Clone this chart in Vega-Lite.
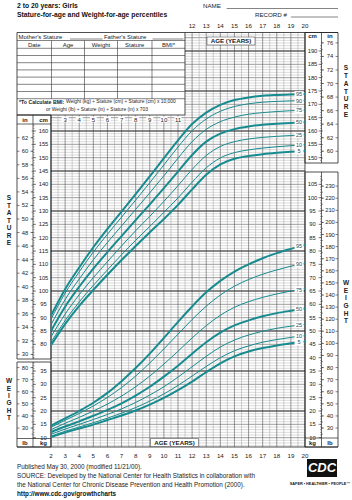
{
"$schema":"https://vega.github.io/schema/vega-lite/v6.json",
"width":352,"height":500,"padding":0,"autosize":{"type":"none"},
"background":"white",
"config":{"view":{"stroke":null},"font":"Liberation Sans"},
"resolve":{"scale":{"y":"independent"}},
"datasets":{
"stat":[
{"age":2,"p5":79.7,"p10":80.8,"p25":82.8,"p50":85.0,"p75":87.3,"p90":89.4,"p95":90.8},
{"age":3,"p5":87.6,"p10":88.9,"p25":91.3,"p50":94.1,"p75":96.8,"p90":99.2,"p95":100.7},
{"age":4,"p5":94.4,"p10":95.9,"p25":98.6,"p50":101.6,"p75":104.5,"p90":107.2,"p95":108.8},
{"age":5,"p5":100.4,"p10":102.1,"p25":105.0,"p50":108.4,"p75":111.7,"p90":114.6,"p95":116.4},
{"age":6,"p5":106.1,"p10":107.9,"p25":111.0,"p50":114.6,"p75":118.2,"p90":121.3,"p95":123.3},
{"age":7,"p5":111.6,"p10":113.6,"p25":116.9,"p50":120.6,"p75":124.4,"p90":127.7,"p95":129.8},
{"age":8,"p5":116.9,"p10":119.0,"p25":122.6,"p50":126.6,"p75":130.6,"p90":134.1,"p95":136.3},
{"age":9,"p5":122.0,"p10":124.2,"p25":128.0,"p50":132.5,"p75":136.8,"p90":140.6,"p95":143.0},
{"age":10,"p5":127.0,"p10":129.5,"p25":133.6,"p50":138.6,"p75":143.2,"p90":147.3,"p95":149.8},
{"age":11,"p5":132.3,"p10":134.9,"p25":139.5,"p50":144.8,"p75":149.8,"p90":154.0,"p95":156.5},
{"age":12,"p5":138.1,"p10":140.8,"p25":145.6,"p50":151.0,"p75":156.0,"p90":160.1,"p95":162.6},
{"age":13,"p5":143.6,"p10":146.2,"p25":150.8,"p50":156.0,"p75":160.6,"p90":164.5,"p95":166.9},
{"age":14,"p5":147.5,"p10":149.9,"p25":154.2,"p50":159.0,"p75":163.5,"p90":167.4,"p95":169.8},
{"age":15,"p5":149.6,"p10":151.9,"p25":156.0,"p50":160.7,"p75":165.2,"p90":169.2,"p95":171.6},
{"age":16,"p5":150.6,"p10":152.9,"p25":157.0,"p50":161.7,"p75":166.3,"p90":170.2,"p95":172.6},
{"age":17,"p5":151.3,"p10":153.6,"p25":157.6,"p50":162.3,"p75":166.9,"p90":170.8,"p95":173.2},
{"age":18,"p5":151.8,"p10":154.1,"p25":158.0,"p50":162.7,"p75":167.3,"p90":171.1,"p95":173.5},
{"age":19,"p5":152.2,"p10":154.5,"p25":158.3,"p50":163.0,"p75":167.6,"p90":171.3,"p95":173.7},
{"age":20,"p5":152.5,"p10":154.8,"p25":158.6,"p50":163.3,"p75":167.8,"p90":171.5,"p95":173.9}],
"wt":[
{"age":2,"p5":10.2,"p10":10.6,"p25":11.3,"p50":12.1,"p75":13.0,"p90":13.9,"p95":14.5},
{"age":3,"p5":11.9,"p10":12.4,"p25":13.2,"p50":14.2,"p75":15.4,"p90":16.5,"p95":17.2},
{"age":4,"p5":13.4,"p10":14.0,"p25":15.0,"p50":16.1,"p75":17.6,"p90":19.1,"p95":20.0},
{"age":5,"p5":14.9,"p10":15.6,"p25":16.8,"p50":18.2,"p75":20.0,"p90":21.9,"p95":23.1},
{"age":6,"p5":16.6,"p10":17.3,"p25":18.7,"p50":20.4,"p75":22.6,"p90":25.1,"p95":26.8},
{"age":7,"p5":18.3,"p10":19.2,"p25":20.8,"p50":22.9,"p75":25.6,"p90":28.8,"p95":31.2},
{"age":8,"p5":20.2,"p10":21.3,"p25":23.2,"p50":25.8,"p75":29.1,"p90":33.1,"p95":36.1},
{"age":9,"p5":22.4,"p10":23.7,"p25":26.0,"p50":29.1,"p75":33.1,"p90":38.0,"p95":41.5},
{"age":10,"p5":24.9,"p10":26.4,"p25":29.1,"p50":32.9,"p75":37.6,"p90":43.3,"p95":47.4},
{"age":11,"p5":27.8,"p10":29.6,"p25":32.7,"p50":37.0,"p75":42.4,"p90":48.8,"p95":53.4},
{"age":12,"p5":31.0,"p10":33.1,"p25":36.6,"p50":41.5,"p75":47.4,"p90":54.3,"p95":59.2},
{"age":13,"p5":34.6,"p10":36.7,"p25":40.5,"p50":45.8,"p75":52.0,"p90":59.3,"p95":64.5},
{"age":14,"p5":37.9,"p10":40.0,"p25":44.0,"p50":49.4,"p75":55.9,"p90":63.5,"p95":68.8},
{"age":15,"p5":40.5,"p10":42.6,"p25":46.6,"p50":52.1,"p75":58.9,"p90":66.8,"p95":72.3},
{"age":16,"p5":42.3,"p10":44.4,"p25":48.5,"p50":54.0,"p75":61.0,"p90":69.3,"p95":75.0},
{"age":17,"p5":43.6,"p10":45.8,"p25":49.9,"p50":55.5,"p75":62.6,"p90":71.3,"p95":77.3},
{"age":18,"p5":44.6,"p10":46.8,"p25":51.0,"p50":56.7,"p75":63.9,"p90":72.9,"p95":79.2},
{"age":19,"p5":45.4,"p10":47.6,"p25":51.8,"p50":57.6,"p75":65.0,"p90":74.3,"p95":80.8},
{"age":20,"p5":46.1,"p10":48.3,"p25":52.5,"p50":58.4,"p75":65.9,"p90":75.5,"p95":82.3}],
"statLab":[{"p":"95","cm":173.8},{"p":"90","cm":171.4},{"p":"75","cm":167.7},{"p":"50","cm":163.2},{"p":"25","cm":158.5},{"p":"10","cm":154.7},{"p":"5","cm":152.4}],
"wtLab":[{"p":"95","kg":81.7},{"p":"90","kg":75.0},{"p":"75","kg":65.5},{"p":"50","kg":58.1},{"p":"25","kg":52.2},{"p":"10","kg":48.0},{"p":"5","kg":45.8}],
"ints":[{"v":10},{"v":11},{"v":12},{"v":13},{"v":14},{"v":15},{"v":16},{"v":17},{"v":18},{"v":19},{"v":20},{"v":21},{"v":22},{"v":23},{"v":24},{"v":25},{"v":26},{"v":27},{"v":28},{"v":29},{"v":30},{"v":31},{"v":32},{"v":33},{"v":34},{"v":35},{"v":36},{"v":37},{"v":38},{"v":39},{"v":40},{"v":41},{"v":42},{"v":43},{"v":44},{"v":45},{"v":46},{"v":47},{"v":48},{"v":49},{"v":50},{"v":51},{"v":52},{"v":53},{"v":54},{"v":55},{"v":56},{"v":57},{"v":58},{"v":59},{"v":60},{"v":61},{"v":62},{"v":63},{"v":64},{"v":65},{"v":66},{"v":67},{"v":68},{"v":69},{"v":70},{"v":71},{"v":72},{"v":73},{"v":74},{"v":75},{"v":76},{"v":77},{"v":78},{"v":79},{"v":80},{"v":81},{"v":82},{"v":83},{"v":84},{"v":85},{"v":86},{"v":87},{"v":88},{"v":89},{"v":90},{"v":91},{"v":92},{"v":93},{"v":94},{"v":95},{"v":96},{"v":97},{"v":98},{"v":99},{"v":100},{"v":101},{"v":102},{"v":103},{"v":104},{"v":105},{"v":106},{"v":107},{"v":108},{"v":109},{"v":110},{"v":111},{"v":112},{"v":113},{"v":114},{"v":115},{"v":116},{"v":117},{"v":118},{"v":119},{"v":120},{"v":121},{"v":122},{"v":123},{"v":124},{"v":125},{"v":126},{"v":127},{"v":128},{"v":129},{"v":130},{"v":131},{"v":132},{"v":133},{"v":134},{"v":135},{"v":136},{"v":137},{"v":138},{"v":139},{"v":140},{"v":141},{"v":142},{"v":143},{"v":144},{"v":145},{"v":146},{"v":147},{"v":148},{"v":149},{"v":150},{"v":151},{"v":152},{"v":153},{"v":154},{"v":155},{"v":156},{"v":157},{"v":158},{"v":159},{"v":160},{"v":161},{"v":162},{"v":163},{"v":164},{"v":165},{"v":166},{"v":167},{"v":168},{"v":169},{"v":170},{"v":171},{"v":172},{"v":173},{"v":174},{"v":175},{"v":176},{"v":177},{"v":178},{"v":179},{"v":180},{"v":181},{"v":182},{"v":183},{"v":184},{"v":185},{"v":186},{"v":187},{"v":188},{"v":189},{"v":190},{"v":191},{"v":192},{"v":193},{"v":194},{"v":195},{"v":196}],
"ages":[{"v":2.5},{"v":3},{"v":3.5},{"v":4},{"v":4.5},{"v":5},{"v":5.5},{"v":6},{"v":6.5},{"v":7},{"v":7.5},{"v":8},{"v":8.5},{"v":9},{"v":9.5},{"v":10},{"v":10.5},{"v":11},{"v":11.5},{"v":12},{"v":12.5},{"v":13},{"v":13.5},{"v":14},{"v":14.5},{"v":15},{"v":15.5},{"v":16},{"v":16.5},{"v":17},{"v":17.5},{"v":18},{"v":18.5},{"v":19},{"v":19.5}],
"yrs":[{"v":2},{"v":3},{"v":4},{"v":5},{"v":6},{"v":7},{"v":8},{"v":9},{"v":10},{"v":11},{"v":12},{"v":13},{"v":14},{"v":15},{"v":16},{"v":17},{"v":18},{"v":19},{"v":20}],
"inch":[{"in":30,"cm":76.2},{"in":31,"cm":78.74},{"in":32,"cm":81.28},{"in":33,"cm":83.82},{"in":34,"cm":86.36},{"in":35,"cm":88.9},{"in":36,"cm":91.44},{"in":37,"cm":93.98},{"in":38,"cm":96.52},{"in":39,"cm":99.06},{"in":40,"cm":101.6},{"in":41,"cm":104.14},{"in":42,"cm":106.68},{"in":43,"cm":109.22},{"in":44,"cm":111.76},{"in":45,"cm":114.3},{"in":46,"cm":116.84},{"in":47,"cm":119.38},{"in":48,"cm":121.92},{"in":49,"cm":124.46},{"in":50,"cm":127},{"in":51,"cm":129.54},{"in":52,"cm":132.08},{"in":53,"cm":134.62},{"in":54,"cm":137.16},{"in":55,"cm":139.7},{"in":56,"cm":142.24},{"in":57,"cm":144.78},{"in":58,"cm":147.32},{"in":59,"cm":149.86},{"in":60,"cm":152.4},{"in":61,"cm":154.94},{"in":62,"cm":157.48},{"in":63,"cm":160.02},{"in":64,"cm":162.56},{"in":65,"cm":165.1},{"in":66,"cm":167.64},{"in":67,"cm":170.18},{"in":68,"cm":172.72},{"in":69,"cm":175.26},{"in":70,"cm":177.8},{"in":71,"cm":180.34},{"in":72,"cm":182.88},{"in":73,"cm":185.42},{"in":74,"cm":187.96},{"in":75,"cm":190.5},{"in":76,"cm":193.04}],
"pound":[{"lb":25,"kg":11.34},{"lb":30,"kg":13.608},{"lb":35,"kg":15.876},{"lb":40,"kg":18.144},{"lb":45,"kg":20.412},{"lb":50,"kg":22.68},{"lb":55,"kg":24.948},{"lb":60,"kg":27.216},{"lb":65,"kg":29.484},{"lb":70,"kg":31.751},{"lb":75,"kg":34.019},{"lb":80,"kg":36.287},{"lb":85,"kg":38.555},{"lb":90,"kg":40.823},{"lb":95,"kg":43.091},{"lb":100,"kg":45.359},{"lb":105,"kg":47.627},{"lb":110,"kg":49.895},{"lb":115,"kg":52.163},{"lb":120,"kg":54.431},{"lb":125,"kg":56.699},{"lb":130,"kg":58.967},{"lb":135,"kg":61.235},{"lb":140,"kg":63.503},{"lb":145,"kg":65.771},{"lb":150,"kg":68.039},{"lb":155,"kg":70.307},{"lb":160,"kg":72.575},{"lb":165,"kg":74.843},{"lb":170,"kg":77.111},{"lb":175,"kg":79.379},{"lb":180,"kg":81.647},{"lb":185,"kg":83.915},{"lb":190,"kg":86.183},{"lb":195,"kg":88.45},{"lb":200,"kg":90.718},{"lb":205,"kg":92.986},{"lb":210,"kg":95.254},{"lb":215,"kg":97.522},{"lb":220,"kg":99.79},{"lb":225,"kg":102.058},{"lb":230,"kg":104.326},{"lb":235,"kg":106.594}],
"one":[{}]
},
"layer":[
{"data":{"name":"ints"},"transform":[{"filter":"datum.v>=42 && datum.v<=165"}],"mark":{"type":"rule","color":"#b3b3b3","strokeWidth":0.5},"encoding":{"y":{"field":"v","type":"quantitative","scale":{"domain":[21.625,209.125],"nice":false,"zero":false},"axis":null},"x":{"datum":2,"type":"quantitative","scale":{"domain":[-1.6142,23.331],"nice":false,"zero":false},"axis":null},"x2":{"datum":20}}},
{"data":{"name":"ints"},"transform":[{"filter":"datum.v>=166 && datum.v<=196"}],"mark":{"type":"rule","color":"#b3b3b3","strokeWidth":0.5},"encoding":{"y":{"field":"v","type":"quantitative","scale":{"domain":[21.625,209.125],"nice":false,"zero":false},"axis":null},"x":{"datum":11.496,"type":"quantitative","scale":{"domain":[-1.6142,23.331],"nice":false,"zero":false},"axis":null},"x2":{"datum":20}}},
{"data":{"name":"ints"},"transform":[{"filter":"datum.v>=45 && datum.v<=165 && datum.v%5==0"}],"mark":{"type":"rule","color":"#7f7f7f","strokeWidth":0.6},"encoding":{"y":{"field":"v","type":"quantitative","scale":{"domain":[21.625,209.125],"nice":false,"zero":false},"axis":null},"x":{"datum":2,"type":"quantitative","scale":{"domain":[-1.6142,23.331],"nice":false,"zero":false},"axis":null},"x2":{"datum":20}}},
{"data":{"name":"ints"},"transform":[{"filter":"datum.v>=170 && datum.v<=195 && datum.v%5==0"}],"mark":{"type":"rule","color":"#7f7f7f","strokeWidth":0.6},"encoding":{"y":{"field":"v","type":"quantitative","scale":{"domain":[21.625,209.125],"nice":false,"zero":false},"axis":null},"x":{"datum":11.496,"type":"quantitative","scale":{"domain":[-1.6142,23.331],"nice":false,"zero":false},"axis":null},"x2":{"datum":20}}},
{"data":{"name":"ages"},"transform":[{"filter":"datum.v%1!=0"}],"mark":{"type":"rule","color":"#9e9e9e","strokeWidth":0.5},"encoding":{"x":{"field":"v","type":"quantitative","scale":{"domain":[-1.6142,23.331],"nice":false,"zero":false},"axis":null},"y":{"datum":41.5,"type":"quantitative","scale":{"domain":[21.625,209.125],"nice":false,"zero":false},"axis":null},"y2":{"datum":166}}},
{"data":{"name":"ages"},"transform":[{"filter":"datum.v%1!=0 && datum.v>=12"}],"mark":{"type":"rule","color":"#9e9e9e","strokeWidth":0.5},"encoding":{"x":{"field":"v","type":"quantitative","scale":{"domain":[-1.6142,23.331],"nice":false,"zero":false},"axis":null},"y":{"datum":166,"type":"quantitative","scale":{"domain":[21.625,209.125],"nice":false,"zero":false},"axis":null},"y2":{"datum":196.9375}}},
{"data":{"name":"ages"},"transform":[{"filter":"datum.v%1==0"}],"mark":{"type":"rule","color":"#555555","strokeWidth":0.6},"encoding":{"x":{"field":"v","type":"quantitative","scale":{"domain":[-1.6142,23.331],"nice":false,"zero":false},"axis":null},"y":{"datum":41.5,"type":"quantitative","scale":{"domain":[21.625,209.125],"nice":false,"zero":false},"axis":null},"y2":{"datum":166}}},
{"data":{"name":"ages"},"transform":[{"filter":"datum.v%1==0 && datum.v>=12"}],"mark":{"type":"rule","color":"#555555","strokeWidth":0.6},"encoding":{"x":{"field":"v","type":"quantitative","scale":{"domain":[-1.6142,23.331],"nice":false,"zero":false},"axis":null},"y":{"datum":166,"type":"quantitative","scale":{"domain":[21.625,209.125],"nice":false,"zero":false},"axis":null},"y2":{"datum":196.9375}}},
{"data":{"name":"ints"},"transform":[{"filter":"datum.v>=55 && datum.v<=160 && (datum.v-10)%15==0"}],"mark":{"type":"rule","color":"#333333","strokeWidth":0.9},"encoding":{"y":{"field":"v","type":"quantitative","scale":{"domain":[21.625,209.125],"nice":false,"zero":false},"axis":null},"x":{"datum":2,"type":"quantitative","scale":{"domain":[-1.6142,23.331],"nice":false,"zero":false},"axis":null},"x2":{"datum":20}}},
{"data":{"name":"ints"},"transform":[{"filter":"datum.v>=175 && datum.v<=190 && (datum.v-10)%15==0"}],"mark":{"type":"rule","color":"#333333","strokeWidth":0.9},"encoding":{"y":{"field":"v","type":"quantitative","scale":{"domain":[21.625,209.125],"nice":false,"zero":false},"axis":null},"x":{"datum":11.496,"type":"quantitative","scale":{"domain":[-1.6142,23.331],"nice":false,"zero":false},"axis":null},"x2":{"datum":20}}},

{"data":{"name":"one"},"mark":{"type":"rule","color":"#222","strokeWidth":0.8},"encoding":{"x":{"datum":2,"type":"quantitative","scale":{"domain":[-1.6142,23.331],"nice":false,"zero":false},"axis":null},"y":{"datum":41.5,"type":"quantitative","scale":{"domain":[21.625,209.125],"nice":false,"zero":false},"axis":null},"y2":{"datum":166}}},
{"data":{"name":"one"},"mark":{"type":"rule","color":"#222","strokeWidth":0.8},"encoding":{"x":{"datum":20,"type":"quantitative","scale":{"domain":[-1.6142,23.331],"nice":false,"zero":false},"axis":null},"y":{"datum":41.5,"type":"quantitative","scale":{"domain":[21.625,209.125],"nice":false,"zero":false},"axis":null},"y2":{"datum":196.9375}}},
{"data":{"name":"one"},"mark":{"type":"rule","color":"#222","strokeWidth":0.8},"encoding":{"y":{"datum":196.9375,"type":"quantitative","scale":{"domain":[21.625,209.125],"nice":false,"zero":false},"axis":null},"x":{"datum":11.496,"type":"quantitative","scale":{"domain":[-1.6142,23.331],"nice":false,"zero":false},"axis":null},"x2":{"datum":22.339}}},
{"data":{"name":"one"},"mark":{"type":"rule","color":"#222","strokeWidth":0.8},"encoding":{"y":{"datum":41.5,"type":"quantitative","scale":{"domain":[21.625,209.125],"nice":false,"zero":false},"axis":null},"x":{"datum":-0.4095,"type":"quantitative","scale":{"domain":[-1.6142,23.331],"nice":false,"zero":false},"axis":null},"x2":{"datum":22.339}}},
{"data":{"name":"one"},"mark":{"type":"rect","fill":null,"stroke":"#222","strokeWidth":0.8},"encoding":{"x":{"datum":-0.4095,"type":"quantitative","scale":{"domain":[-1.6142,23.331],"nice":false,"zero":false},"axis":null},"x2":{"datum":11.496},"y":{"datum":166,"type":"quantitative","scale":{"domain":[21.625,209.125],"nice":false,"zero":false},"axis":null},"y2":{"datum":196.9375}}},
{"data":{"name":"one"},"mark":{"type":"rect","fill":null,"stroke":"#222","strokeWidth":0.8},"encoding":{"x":{"datum":-0.4095,"type":"quantitative","scale":{"domain":[-1.6142,23.331],"nice":false,"zero":false},"axis":null},"x2":{"datum":2},"y":{"datum":74.5,"type":"quantitative","scale":{"domain":[21.625,209.125],"nice":false,"zero":false},"axis":null},"y2":{"datum":166}}},
{"data":{"name":"one"},"mark":{"type":"rect","fill":null,"stroke":"#222","strokeWidth":0.8},"encoding":{"x":{"datum":-0.4095,"type":"quantitative","scale":{"domain":[-1.6142,23.331],"nice":false,"zero":false},"axis":null},"x2":{"datum":2},"y":{"datum":41.5,"type":"quantitative","scale":{"domain":[21.625,209.125],"nice":false,"zero":false},"axis":null},"y2":{"datum":73.375}}},
{"data":{"name":"one"},"mark":{"type":"rect","fill":null,"stroke":"#222","strokeWidth":0.8},"encoding":{"x":{"datum":20,"type":"quantitative","scale":{"domain":[-1.6142,23.331],"nice":false,"zero":false},"axis":null},"x2":{"datum":22.339},"y":{"datum":148,"type":"quantitative","scale":{"domain":[21.625,209.125],"nice":false,"zero":false},"axis":null},"y2":{"datum":196.9375}}},
{"data":{"name":"one"},"mark":{"type":"rect","fill":null,"stroke":"#222","strokeWidth":0.8},"encoding":{"x":{"datum":20,"type":"quantitative","scale":{"domain":[-1.6142,23.331],"nice":false,"zero":false},"axis":null},"x2":{"datum":22.339},"y":{"datum":41.5,"type":"quantitative","scale":{"domain":[21.625,209.125],"nice":false,"zero":false},"axis":null},"y2":{"datum":144.625}}},
{"data":{"name":"one"},"mark":{"type":"rule","color":"#222","strokeWidth":0.7},"encoding":{"x":{"datum":0.7244,"type":"quantitative","scale":{"domain":[-1.6142,23.331],"nice":false,"zero":false},"axis":null},"y":{"datum":74.5,"type":"quantitative","scale":{"domain":[21.625,209.125],"nice":false,"zero":false},"axis":null},"y2":{"datum":166}}},
{"data":{"name":"one"},"mark":{"type":"rule","color":"#222","strokeWidth":0.7},"encoding":{"x":{"datum":0.7244,"type":"quantitative","scale":{"domain":[-1.6142,23.331],"nice":false,"zero":false},"axis":null},"y":{"datum":41.5,"type":"quantitative","scale":{"domain":[21.625,209.125],"nice":false,"zero":false},"axis":null},"y2":{"datum":73.375}}},
{"data":{"name":"one"},"mark":{"type":"rule","color":"#222","strokeWidth":0.7},"encoding":{"x":{"datum":21.1695,"type":"quantitative","scale":{"domain":[-1.6142,23.331],"nice":false,"zero":false},"axis":null},"y":{"datum":148,"type":"quantitative","scale":{"domain":[21.625,209.125],"nice":false,"zero":false},"axis":null},"y2":{"datum":196.9375}}},
{"data":{"name":"one"},"mark":{"type":"rule","color":"#222","strokeWidth":0.7},"encoding":{"x":{"datum":21.1695,"type":"quantitative","scale":{"domain":[-1.6142,23.331],"nice":false,"zero":false},"axis":null},"y":{"datum":41.5,"type":"quantitative","scale":{"domain":[21.625,209.125],"nice":false,"zero":false},"axis":null},"y2":{"datum":144.625}}},
{"data":{"name":"one"},"mark":{"type":"rule","color":"#222","strokeWidth":0.7},"encoding":{"y":{"datum":162.625,"type":"quantitative","scale":{"domain":[21.625,209.125],"nice":false,"zero":false},"axis":null},"x":{"datum":-0.4095,"type":"quantitative","scale":{"domain":[-1.6142,23.331],"nice":false,"zero":false},"axis":null},"x2":{"datum":2}}},
{"data":{"name":"one"},"mark":{"type":"rule","color":"#222","strokeWidth":0.7},"encoding":{"y":{"datum":44.6875,"type":"quantitative","scale":{"domain":[21.625,209.125],"nice":false,"zero":false},"axis":null},"x":{"datum":-0.4095,"type":"quantitative","scale":{"domain":[-1.6142,23.331],"nice":false,"zero":false},"axis":null},"x2":{"datum":2}}},
{"data":{"name":"one"},"mark":{"type":"rule","color":"#222","strokeWidth":0.7},"encoding":{"y":{"datum":44.875,"type":"quantitative","scale":{"domain":[21.625,209.125],"nice":false,"zero":false},"axis":null},"x":{"datum":20,"type":"quantitative","scale":{"domain":[-1.6142,23.331],"nice":false,"zero":false},"axis":null},"x2":{"datum":22.339}}},

{"data":{"name":"one"},"mark":{"type":"rule","color":"#333","strokeWidth":0.6},"encoding":{"y":{"datum":193.9375,"type":"quantitative","scale":{"domain":[21.625,209.125],"nice":false,"zero":false},"axis":null},"x":{"datum":-0.4095,"type":"quantitative","scale":{"domain":[-1.6142,23.331],"nice":false,"zero":false},"axis":null},"x2":{"datum":11.496}}},
{"data":{"name":"one"},"mark":{"type":"rule","color":"#333","strokeWidth":0.6},"encoding":{"y":{"datum":191.0125,"type":"quantitative","scale":{"domain":[21.625,209.125],"nice":false,"zero":false},"axis":null},"x":{"datum":-0.4095,"type":"quantitative","scale":{"domain":[-1.6142,23.331],"nice":false,"zero":false},"axis":null},"x2":{"datum":11.496}}},
{"data":{"name":"one"},"mark":{"type":"rule","color":"#333","strokeWidth":0.6},"encoding":{"y":{"datum":188.3125,"type":"quantitative","scale":{"domain":[21.625,209.125],"nice":false,"zero":false},"axis":null},"x":{"datum":-0.4095,"type":"quantitative","scale":{"domain":[-1.6142,23.331],"nice":false,"zero":false},"axis":null},"x2":{"datum":11.496}}},
{"data":{"name":"one"},"mark":{"type":"rule","color":"#333","strokeWidth":0.6},"encoding":{"y":{"datum":185.6125,"type":"quantitative","scale":{"domain":[21.625,209.125],"nice":false,"zero":false},"axis":null},"x":{"datum":-0.4095,"type":"quantitative","scale":{"domain":[-1.6142,23.331],"nice":false,"zero":false},"axis":null},"x2":{"datum":11.496}}},
{"data":{"name":"one"},"mark":{"type":"rule","color":"#333","strokeWidth":0.6},"encoding":{"y":{"datum":182.9125,"type":"quantitative","scale":{"domain":[21.625,209.125],"nice":false,"zero":false},"axis":null},"x":{"datum":-0.4095,"type":"quantitative","scale":{"domain":[-1.6142,23.331],"nice":false,"zero":false},"axis":null},"x2":{"datum":11.496}}},
{"data":{"name":"one"},"mark":{"type":"rule","color":"#333","strokeWidth":0.6},"encoding":{"y":{"datum":180.2125,"type":"quantitative","scale":{"domain":[21.625,209.125],"nice":false,"zero":false},"axis":null},"x":{"datum":-0.4095,"type":"quantitative","scale":{"domain":[-1.6142,23.331],"nice":false,"zero":false},"axis":null},"x2":{"datum":11.496}}},
{"data":{"name":"one"},"mark":{"type":"rule","color":"#333","strokeWidth":0.6},"encoding":{"y":{"datum":177.5125,"type":"quantitative","scale":{"domain":[21.625,209.125],"nice":false,"zero":false},"axis":null},"x":{"datum":-0.4095,"type":"quantitative","scale":{"domain":[-1.6142,23.331],"nice":false,"zero":false},"axis":null},"x2":{"datum":11.496}}},
{"data":{"name":"one"},"mark":{"type":"rule","color":"#333","strokeWidth":0.6},"encoding":{"y":{"datum":174.8125,"type":"quantitative","scale":{"domain":[21.625,209.125],"nice":false,"zero":false},"axis":null},"x":{"datum":-0.4095,"type":"quantitative","scale":{"domain":[-1.6142,23.331],"nice":false,"zero":false},"axis":null},"x2":{"datum":11.496}}},
{"data":{"name":"one"},"mark":{"type":"rule","color":"#333","strokeWidth":0.6},"encoding":{"y":{"datum":172.1125,"type":"quantitative","scale":{"domain":[21.625,209.125],"nice":false,"zero":false},"axis":null},"x":{"datum":-0.4095,"type":"quantitative","scale":{"domain":[-1.6142,23.331],"nice":false,"zero":false},"axis":null},"x2":{"datum":11.496}}},
{"data":{"name":"one"},"mark":{"type":"rule","color":"#333","strokeWidth":0.6},"encoding":{"x":{"datum":2.0354,"type":"quantitative","scale":{"domain":[-1.6142,23.331],"nice":false,"zero":false},"axis":null},"y":{"datum":172.1125,"type":"quantitative","scale":{"domain":[21.625,209.125],"nice":false,"zero":false},"axis":null},"y2":{"datum":193.9375}}},
{"data":{"name":"one"},"mark":{"type":"rule","color":"#333","strokeWidth":0.6},"encoding":{"x":{"datum":4.374,"type":"quantitative","scale":{"domain":[-1.6142,23.331],"nice":false,"zero":false},"axis":null},"y":{"datum":172.1125,"type":"quantitative","scale":{"domain":[21.625,209.125],"nice":false,"zero":false},"axis":null},"y2":{"datum":193.9375}}},
{"data":{"name":"one"},"mark":{"type":"rule","color":"#333","strokeWidth":0.6},"encoding":{"x":{"datum":6.7126,"type":"quantitative","scale":{"domain":[-1.6142,23.331],"nice":false,"zero":false},"axis":null},"y":{"datum":172.1125,"type":"quantitative","scale":{"domain":[21.625,209.125],"nice":false,"zero":false},"axis":null},"y2":{"datum":193.9375}}},
{"data":{"name":"one"},"mark":{"type":"rule","color":"#333","strokeWidth":0.6},"encoding":{"x":{"datum":9.1575,"type":"quantitative","scale":{"domain":[-1.6142,23.331],"nice":false,"zero":false},"axis":null},"y":{"datum":172.1125,"type":"quantitative","scale":{"domain":[21.625,209.125],"nice":false,"zero":false},"axis":null},"y2":{"datum":193.9375}}},
{"data":{"name":"one"},"mark":{"type":"rule","color":"#333","strokeWidth":0.6},"encoding":{"y":{"datum":194.5,"type":"quantitative","scale":{"domain":[21.625,209.125],"nice":false,"zero":false},"axis":null},"x":{"datum":3.35,"type":"quantitative","scale":{"domain":[-1.6142,23.331],"nice":false,"zero":false},"axis":null},"x2":{"datum":5.65}}},
{"data":{"name":"one"},"mark":{"type":"rule","color":"#333","strokeWidth":0.6},"encoding":{"y":{"datum":194.5,"type":"quantitative","scale":{"domain":[21.625,209.125],"nice":false,"zero":false},"axis":null},"x":{"datum":9.2,"type":"quantitative","scale":{"domain":[-1.6142,23.331],"nice":false,"zero":false},"axis":null},"x2":{"datum":11.3898}}},

{"data":{"name":"stat"},"transform":[{"fold":["p10","p25","p75","p90"],"as":["pct","cm"]}],"mark":{"type":"line","color":"#178b8f","strokeWidth":1,"interpolate":"monotone"},"encoding":{"x":{"field":"age","type":"quantitative","scale":{"domain":[-1.6142,23.331],"nice":false,"zero":false},"axis":null},"y":{"field":"cm","type":"quantitative","scale":{"domain":[21.625,209.125],"nice":false,"zero":false},"axis":null},"detail":{"field":"pct","type":"nominal"}}},
{"data":{"name":"stat"},"transform":[{"fold":["p5","p50","p95"],"as":["pct","cm"]}],"mark":{"type":"line","color":"#178b8f","strokeWidth":2,"interpolate":"monotone"},"encoding":{"x":{"field":"age","type":"quantitative","scale":{"domain":[-1.6142,23.331],"nice":false,"zero":false},"axis":null},"y":{"field":"cm","type":"quantitative","scale":{"domain":[21.625,209.125],"nice":false,"zero":false},"axis":null},"detail":{"field":"pct","type":"nominal"}}},
{"data":{"name":"wt"},"transform":[{"fold":["p10","p25","p75","p90"],"as":["pct","kg"]}],"mark":{"type":"line","color":"#178b8f","strokeWidth":1,"interpolate":"monotone"},"encoding":{"x":{"field":"age","type":"quantitative","scale":{"domain":[-1.6142,23.331],"nice":false,"zero":false},"axis":null},"y":{"field":"kg","type":"quantitative","scale":{"domain":[-13.375,174.125],"nice":false,"zero":false},"axis":null},"detail":{"field":"pct","type":"nominal"}}},
{"data":{"name":"wt"},"transform":[{"fold":["p5","p50","p95"],"as":["pct","kg"]}],"mark":{"type":"line","color":"#178b8f","strokeWidth":2,"interpolate":"monotone"},"encoding":{"x":{"field":"age","type":"quantitative","scale":{"domain":[-1.6142,23.331],"nice":false,"zero":false},"axis":null},"y":{"field":"kg","type":"quantitative","scale":{"domain":[-13.375,174.125],"nice":false,"zero":false},"axis":null},"detail":{"field":"pct","type":"nominal"}}},
{"data":{"name":"statLab"},"mark":{"type":"point","shape":"M-1,-0.68L1,-0.68L1,0.68L-1,0.68Z","size":81,"filled":true,"color":"white","opacity":1,"strokeWidth":0},"encoding":{"x":{"datum":19.58,"type":"quantitative","scale":{"domain":[-1.6142,23.331],"nice":false,"zero":false},"axis":null},"y":{"field":"cm","type":"quantitative","scale":{"domain":[21.625,209.125],"nice":false,"zero":false},"axis":null}}},
{"data":{"name":"wtLab"},"mark":{"type":"point","shape":"M-1,-0.68L1,-0.68L1,0.68L-1,0.68Z","size":81,"filled":true,"color":"white","opacity":1,"strokeWidth":0},"encoding":{"x":{"datum":19.58,"type":"quantitative","scale":{"domain":[-1.6142,23.331],"nice":false,"zero":false},"axis":null},"y":{"field":"kg","type":"quantitative","scale":{"domain":[-13.375,174.125],"nice":false,"zero":false},"axis":null}}},
{"data":{"name":"statLab"},"mark":{"type":"text","fontSize":5.5,"color":"#2b4a4b"},"encoding":{"text":{"field":"p","type":"nominal"},"x":{"datum":19.58,"type":"quantitative","scale":{"domain":[-1.6142,23.331],"nice":false,"zero":false},"axis":null},"y":{"field":"cm","type":"quantitative","scale":{"domain":[21.625,209.125],"nice":false,"zero":false},"axis":null}}},
{"data":{"name":"wtLab"},"mark":{"type":"text","fontSize":5.5,"color":"#2b4a4b"},"encoding":{"text":{"field":"p","type":"nominal"},"x":{"datum":19.58,"type":"quantitative","scale":{"domain":[-1.6142,23.331],"nice":false,"zero":false},"axis":null},"y":{"field":"kg","type":"quantitative","scale":{"domain":[-13.375,174.125],"nice":false,"zero":false},"axis":null}}},

{"data":{"name":"ints"},"transform":[{"filter":"datum.v>=75 && datum.v<=162"}],"mark":{"type":"rule","color":"#333","strokeWidth":0.5},"encoding":{"y":{"field":"v","type":"quantitative","scale":{"domain":[21.625,209.125],"nice":false,"zero":false},"axis":null},"x":{"datum":0.7244,"type":"quantitative","scale":{"domain":[-1.6142,23.331],"nice":false,"zero":false},"axis":null},"x2":{"datum":0.8307}}},
{"data":{"name":"ints"},"transform":[{"filter":"datum.v>=80 && datum.v<=160 && datum.v%5==0"}],"mark":{"type":"rule","color":"#333","strokeWidth":0.6},"encoding":{"y":{"field":"v","type":"quantitative","scale":{"domain":[21.625,209.125],"nice":false,"zero":false},"axis":null},"x":{"datum":0.7244,"type":"quantitative","scale":{"domain":[-1.6142,23.331],"nice":false,"zero":false},"axis":null},"x2":{"datum":0.937}}},
{"data":{"name":"ints"},"transform":[{"filter":"datum.v>=80 && datum.v<=160 && datum.v%5==0"}],"mark":{"type":"text","fontSize":5.8,"color":"#222"},"encoding":{"text":{"field":"v","type":"quantitative"},"y":{"field":"v","type":"quantitative","scale":{"domain":[21.625,209.125],"nice":false,"zero":false},"axis":null},"x":{"datum":1.4685,"type":"quantitative","scale":{"domain":[-1.6142,23.331],"nice":false,"zero":false},"axis":null}}},
{"data":{"name":"inch"},"transform":[{"filter":"datum.in>=30 && datum.in<=63"}],"mark":{"type":"rule","color":"#333","strokeWidth":0.5},"encoding":{"y":{"field":"cm","type":"quantitative","scale":{"domain":[21.625,209.125],"nice":false,"zero":false},"axis":null},"x":{"datum":0.6181,"type":"quantitative","scale":{"domain":[-1.6142,23.331],"nice":false,"zero":false},"axis":null},"x2":{"datum":0.7244}}},
{"data":{"name":"inch"},"transform":[{"filter":"datum.in>=30 && datum.in<=62 && datum.in%2==0"}],"mark":{"type":"rule","color":"#333","strokeWidth":0.6},"encoding":{"y":{"field":"cm","type":"quantitative","scale":{"domain":[21.625,209.125],"nice":false,"zero":false},"axis":null},"x":{"datum":-0.4095,"type":"quantitative","scale":{"domain":[-1.6142,23.331],"nice":false,"zero":false},"axis":null},"x2":{"datum":-0.2323}}},
{"data":{"name":"inch"},"transform":[{"filter":"datum.in>=30 && datum.in<=62 && datum.in%2==0"}],"mark":{"type":"rule","color":"#333","strokeWidth":0.6},"encoding":{"y":{"field":"cm","type":"quantitative","scale":{"domain":[21.625,209.125],"nice":false,"zero":false},"axis":null},"x":{"datum":0.5472,"type":"quantitative","scale":{"domain":[-1.6142,23.331],"nice":false,"zero":false},"axis":null},"x2":{"datum":0.7244}}},
{"data":{"name":"inch"},"transform":[{"filter":"datum.in>=30 && datum.in<=62 && datum.in%2==0"}],"mark":{"type":"text","fontSize":5.8,"color":"#222"},"encoding":{"text":{"field":"in","type":"quantitative"},"y":{"field":"cm","type":"quantitative","scale":{"domain":[21.625,209.125],"nice":false,"zero":false},"axis":null},"x":{"datum":0.1575,"type":"quantitative","scale":{"domain":[-1.6142,23.331],"nice":false,"zero":false},"axis":null}}},

{"data":{"name":"ints"},"transform":[{"filter":"datum.v>=10 && datum.v<=38"}],"mark":{"type":"rule","color":"#333","strokeWidth":0.5},"encoding":{"y":{"field":"v","type":"quantitative","scale":{"domain":[-13.375,174.125],"nice":false,"zero":false},"axis":null},"x":{"datum":0.7244,"type":"quantitative","scale":{"domain":[-1.6142,23.331],"nice":false,"zero":false},"axis":null},"x2":{"datum":0.8307}}},
{"data":{"name":"ints"},"transform":[{"filter":"datum.v>=10 && datum.v<=35 && datum.v%5==0"}],"mark":{"type":"rule","color":"#333","strokeWidth":0.6},"encoding":{"y":{"field":"v","type":"quantitative","scale":{"domain":[-13.375,174.125],"nice":false,"zero":false},"axis":null},"x":{"datum":0.7244,"type":"quantitative","scale":{"domain":[-1.6142,23.331],"nice":false,"zero":false},"axis":null},"x2":{"datum":0.937}}},
{"data":{"name":"ints"},"transform":[{"filter":"datum.v>=10 && datum.v<=35 && datum.v%5==0"}],"mark":{"type":"text","fontSize":5.8,"color":"#222"},"encoding":{"text":{"field":"v","type":"quantitative"},"y":{"field":"v","type":"quantitative","scale":{"domain":[-13.375,174.125],"nice":false,"zero":false},"axis":null},"x":{"datum":1.4685,"type":"quantitative","scale":{"domain":[-1.6142,23.331],"nice":false,"zero":false},"axis":null}}},
{"data":{"name":"pound"},"transform":[{"filter":"datum.lb<=80"}],"mark":{"type":"rule","color":"#333","strokeWidth":0.5},"encoding":{"y":{"field":"kg","type":"quantitative","scale":{"domain":[-13.375,174.125],"nice":false,"zero":false},"axis":null},"x":{"datum":0.6181,"type":"quantitative","scale":{"domain":[-1.6142,23.331],"nice":false,"zero":false},"axis":null},"x2":{"datum":0.7244}}},
{"data":{"name":"pound"},"transform":[{"filter":"datum.lb>=30 && datum.lb<=80 && datum.lb%10==0"}],"mark":{"type":"rule","color":"#333","strokeWidth":0.6},"encoding":{"y":{"field":"kg","type":"quantitative","scale":{"domain":[-13.375,174.125],"nice":false,"zero":false},"axis":null},"x":{"datum":-0.4095,"type":"quantitative","scale":{"domain":[-1.6142,23.331],"nice":false,"zero":false},"axis":null},"x2":{"datum":-0.2323}}},
{"data":{"name":"pound"},"transform":[{"filter":"datum.lb>=30 && datum.lb<=80 && datum.lb%10==0"}],"mark":{"type":"rule","color":"#333","strokeWidth":0.6},"encoding":{"y":{"field":"kg","type":"quantitative","scale":{"domain":[-13.375,174.125],"nice":false,"zero":false},"axis":null},"x":{"datum":0.5472,"type":"quantitative","scale":{"domain":[-1.6142,23.331],"nice":false,"zero":false},"axis":null},"x2":{"datum":0.7244}}},
{"data":{"name":"pound"},"transform":[{"filter":"datum.lb>=30 && datum.lb<=80 && datum.lb%10==0"}],"mark":{"type":"text","fontSize":5.8,"color":"#222"},"encoding":{"text":{"field":"lb","type":"quantitative"},"y":{"field":"kg","type":"quantitative","scale":{"domain":[-13.375,174.125],"nice":false,"zero":false},"axis":null},"x":{"datum":0.1575,"type":"quantitative","scale":{"domain":[-1.6142,23.331],"nice":false,"zero":false},"axis":null}}},

{"data":{"name":"ints"},"transform":[{"filter":"datum.v>=149 && datum.v<=192"}],"mark":{"type":"rule","color":"#333","strokeWidth":0.5},"encoding":{"y":{"field":"v","type":"quantitative","scale":{"domain":[21.625,209.125],"nice":false,"zero":false},"axis":null},"x":{"datum":21.0632,"type":"quantitative","scale":{"domain":[-1.6142,23.331],"nice":false,"zero":false},"axis":null},"x2":{"datum":21.1695}}},
{"data":{"name":"ints"},"transform":[{"filter":"datum.v>=150 && datum.v<=190 && datum.v%5==0"}],"mark":{"type":"rule","color":"#333","strokeWidth":0.6},"encoding":{"y":{"field":"v","type":"quantitative","scale":{"domain":[21.625,209.125],"nice":false,"zero":false},"axis":null},"x":{"datum":20.9569,"type":"quantitative","scale":{"domain":[-1.6142,23.331],"nice":false,"zero":false},"axis":null},"x2":{"datum":21.1695}}},
{"data":{"name":"ints"},"transform":[{"filter":"datum.v>=150 && datum.v<=190 && datum.v%5==0"}],"mark":{"type":"text","fontSize":5.8,"color":"#222"},"encoding":{"text":{"field":"v","type":"quantitative"},"y":{"field":"v","type":"quantitative","scale":{"domain":[21.625,209.125],"nice":false,"zero":false},"axis":null},"x":{"datum":20.5315,"type":"quantitative","scale":{"domain":[-1.6142,23.331],"nice":false,"zero":false},"axis":null}}},
{"data":{"name":"inch"},"transform":[{"filter":"datum.in>=59 && datum.in<=76"}],"mark":{"type":"rule","color":"#333","strokeWidth":0.5},"encoding":{"y":{"field":"cm","type":"quantitative","scale":{"domain":[21.625,209.125],"nice":false,"zero":false},"axis":null},"x":{"datum":21.1695,"type":"quantitative","scale":{"domain":[-1.6142,23.331],"nice":false,"zero":false},"axis":null},"x2":{"datum":21.2758}}},
{"data":{"name":"inch"},"transform":[{"filter":"datum.in>=60 && datum.in<=76 && datum.in%2==0"}],"mark":{"type":"rule","color":"#333","strokeWidth":0.6},"encoding":{"y":{"field":"cm","type":"quantitative","scale":{"domain":[21.625,209.125],"nice":false,"zero":false},"axis":null},"x":{"datum":21.1695,"type":"quantitative","scale":{"domain":[-1.6142,23.331],"nice":false,"zero":false},"axis":null},"x2":{"datum":21.3467}}},
{"data":{"name":"inch"},"transform":[{"filter":"datum.in>=60 && datum.in<=76 && datum.in%2==0"}],"mark":{"type":"rule","color":"#333","strokeWidth":0.6},"encoding":{"y":{"field":"cm","type":"quantitative","scale":{"domain":[21.625,209.125],"nice":false,"zero":false},"axis":null},"x":{"datum":22.1618,"type":"quantitative","scale":{"domain":[-1.6142,23.331],"nice":false,"zero":false},"axis":null},"x2":{"datum":22.339}}},
{"data":{"name":"inch"},"transform":[{"filter":"datum.in>=60 && datum.in<=76 && datum.in%2==0"}],"mark":{"type":"text","fontSize":5.8,"color":"#222"},"encoding":{"text":{"field":"in","type":"quantitative"},"y":{"field":"cm","type":"quantitative","scale":{"domain":[21.625,209.125],"nice":false,"zero":false},"axis":null},"x":{"datum":21.7717,"type":"quantitative","scale":{"domain":[-1.6142,23.331],"nice":false,"zero":false},"axis":null}}},

{"data":{"name":"ints"},"transform":[{"filter":"datum.v>=10 && datum.v<=108"}],"mark":{"type":"rule","color":"#333","strokeWidth":0.5},"encoding":{"y":{"field":"v","type":"quantitative","scale":{"domain":[-13.375,174.125],"nice":false,"zero":false},"axis":null},"x":{"datum":21.0632,"type":"quantitative","scale":{"domain":[-1.6142,23.331],"nice":false,"zero":false},"axis":null},"x2":{"datum":21.1695}}},
{"data":{"name":"ints"},"transform":[{"filter":"datum.v>=10 && datum.v<=105 && datum.v%5==0"}],"mark":{"type":"rule","color":"#333","strokeWidth":0.6},"encoding":{"y":{"field":"v","type":"quantitative","scale":{"domain":[-13.375,174.125],"nice":false,"zero":false},"axis":null},"x":{"datum":20.9569,"type":"quantitative","scale":{"domain":[-1.6142,23.331],"nice":false,"zero":false},"axis":null},"x2":{"datum":21.1695}}},
{"data":{"name":"ints"},"transform":[{"filter":"datum.v>=10 && datum.v<=105 && datum.v%5==0"}],"mark":{"type":"text","fontSize":5.8,"color":"#222"},"encoding":{"text":{"field":"v","type":"quantitative"},"y":{"field":"v","type":"quantitative","scale":{"domain":[-13.375,174.125],"nice":false,"zero":false},"axis":null},"x":{"datum":20.5315,"type":"quantitative","scale":{"domain":[-1.6142,23.331],"nice":false,"zero":false},"axis":null}}},
{"data":{"name":"pound"},"mark":{"type":"rule","color":"#333","strokeWidth":0.5},"encoding":{"y":{"field":"kg","type":"quantitative","scale":{"domain":[-13.375,174.125],"nice":false,"zero":false},"axis":null},"x":{"datum":21.1695,"type":"quantitative","scale":{"domain":[-1.6142,23.331],"nice":false,"zero":false},"axis":null},"x2":{"datum":21.2758}}},
{"data":{"name":"pound"},"transform":[{"filter":"datum.lb>=30 && datum.lb<=230 && datum.lb%10==0"}],"mark":{"type":"rule","color":"#333","strokeWidth":0.6},"encoding":{"y":{"field":"kg","type":"quantitative","scale":{"domain":[-13.375,174.125],"nice":false,"zero":false},"axis":null},"x":{"datum":21.1695,"type":"quantitative","scale":{"domain":[-1.6142,23.331],"nice":false,"zero":false},"axis":null},"x2":{"datum":21.3467}}},
{"data":{"name":"pound"},"transform":[{"filter":"datum.lb>=30 && datum.lb<=230 && datum.lb%10==0"}],"mark":{"type":"rule","color":"#333","strokeWidth":0.6},"encoding":{"y":{"field":"kg","type":"quantitative","scale":{"domain":[-13.375,174.125],"nice":false,"zero":false},"axis":null},"x":{"datum":22.1618,"type":"quantitative","scale":{"domain":[-1.6142,23.331],"nice":false,"zero":false},"axis":null},"x2":{"datum":22.339}}},
{"data":{"name":"pound"},"transform":[{"filter":"datum.lb>=30 && datum.lb<=230 && datum.lb%10==0"}],"mark":{"type":"text","fontSize":5.8,"color":"#222"},"encoding":{"text":{"field":"lb","type":"quantitative"},"y":{"field":"kg","type":"quantitative","scale":{"domain":[-13.375,174.125],"nice":false,"zero":false},"axis":null},"x":{"datum":21.7717,"type":"quantitative","scale":{"domain":[-1.6142,23.331],"nice":false,"zero":false},"axis":null}}},

{"data":{"name":"yrs"},"transform":[{"filter":"datum.v>=3 && datum.v<=11"}],"mark":{"type":"point","shape":"M-1,-0.85L1,-0.85L1,0.85L-1,0.85Z","size":49,"filled":true,"color":"white","opacity":1,"strokeWidth":0},"encoding":{"x":{"field":"v","type":"quantitative","scale":{"domain":[-1.6142,23.331],"nice":false,"zero":false},"axis":null},"y":{"datum":164.3125,"type":"quantitative","scale":{"domain":[21.625,209.125],"nice":false,"zero":false},"axis":null}}},
{"data":{"name":"yrs"},"transform":[{"filter":"datum.v>=3 && datum.v<=11"}],"mark":{"type":"text","fontSize":6,"color":"#222"},"encoding":{"text":{"field":"v","type":"quantitative"},"x":{"field":"v","type":"quantitative","scale":{"domain":[-1.6142,23.331],"nice":false,"zero":false},"axis":null},"y":{"datum":164.3125,"type":"quantitative","scale":{"domain":[21.625,209.125],"nice":false,"zero":false},"axis":null}}},
{"data":{"name":"yrs"},"transform":[{"filter":"datum.v>=12"}],"mark":{"type":"text","fontSize":6.2,"color":"#222"},"encoding":{"text":{"field":"v","type":"quantitative"},"x":{"field":"v","type":"quantitative","scale":{"domain":[-1.6142,23.331],"nice":false,"zero":false},"axis":null},"y":{"datum":199.375,"type":"quantitative","scale":{"domain":[21.625,209.125],"nice":false,"zero":false},"axis":null}}},
{"data":{"name":"yrs"},"mark":{"type":"text","fontSize":6.2,"color":"#222"},"encoding":{"text":{"field":"v","type":"quantitative"},"x":{"field":"v","type":"quantitative","scale":{"domain":[-1.6142,23.331],"nice":false,"zero":false},"axis":null},"y":{"datum":38.3125,"type":"quantitative","scale":{"domain":[21.625,209.125],"nice":false,"zero":false},"axis":null}}},
{"data":{"name":"one"},"mark":{"type":"rect","fill":"white","stroke":"#333","strokeWidth":0.5},"encoding":{"x":{"datum":13.055,"type":"quantitative","scale":{"domain":[-1.6142,23.331],"nice":false,"zero":false},"axis":null},"x2":{"datum":16.457},"y":{"datum":192.25,"type":"quantitative","scale":{"domain":[21.625,209.125],"nice":false,"zero":false},"axis":null},"y2":{"datum":195.25}}},
{"data":{"name":"one"},"mark":{"type":"text","text":"AGE (YEARS)","fontSize":6.2,"fontWeight":"bold","color":"#222"},"encoding":{"x":{"datum":14.756,"type":"quantitative","scale":{"domain":[-1.6142,23.331],"nice":false,"zero":false},"axis":null},"y":{"datum":193.75,"type":"quantitative","scale":{"domain":[21.625,209.125],"nice":false,"zero":false},"axis":null}}},
{"data":{"name":"one"},"mark":{"type":"rect","fill":"white","stroke":"#333","strokeWidth":0.5},"encoding":{"x":{"datum":9.0512,"type":"quantitative","scale":{"domain":[-1.6142,23.331],"nice":false,"zero":false},"axis":null},"x2":{"datum":12.4528},"y":{"datum":41.6875,"type":"quantitative","scale":{"domain":[21.625,209.125],"nice":false,"zero":false},"axis":null},"y2":{"datum":44.6875}}},
{"data":{"name":"one"},"mark":{"type":"text","text":"AGE (YEARS)","fontSize":6.2,"fontWeight":"bold","color":"#222"},"encoding":{"x":{"datum":10.752,"type":"quantitative","scale":{"domain":[-1.6142,23.331],"nice":false,"zero":false},"axis":null},"y":{"datum":43.1875,"type":"quantitative","scale":{"domain":[21.625,209.125],"nice":false,"zero":false},"axis":null}}},

{"data":{"name":"one"},"mark":{"type":"text","text":"in","fontSize":6,"fontWeight":"bold","color":"#222"},"encoding":{"x":{"datum":0.1575,"type":"quantitative","scale":{"domain":[-1.6142,23.331],"nice":false,"zero":false},"axis":null},"y":{"datum":164.3125,"type":"quantitative","scale":{"domain":[21.625,209.125],"nice":false,"zero":false},"axis":null}}},
{"data":{"name":"one"},"mark":{"type":"text","text":"cm","fontSize":6,"fontWeight":"bold","color":"#222"},"encoding":{"x":{"datum":1.4685,"type":"quantitative","scale":{"domain":[-1.6142,23.331],"nice":false,"zero":false},"axis":null},"y":{"datum":164.3125,"type":"quantitative","scale":{"domain":[21.625,209.125],"nice":false,"zero":false},"axis":null}}},
{"data":{"name":"one"},"mark":{"type":"text","text":"lb","fontSize":6,"fontWeight":"bold","color":"#222"},"encoding":{"x":{"datum":0.1575,"type":"quantitative","scale":{"domain":[-1.6142,23.331],"nice":false,"zero":false},"axis":null},"y":{"datum":43.0,"type":"quantitative","scale":{"domain":[21.625,209.125],"nice":false,"zero":false},"axis":null}}},
{"data":{"name":"one"},"mark":{"type":"text","text":"kg","fontSize":6,"fontWeight":"bold","color":"#222"},"encoding":{"x":{"datum":1.4685,"type":"quantitative","scale":{"domain":[-1.6142,23.331],"nice":false,"zero":false},"axis":null},"y":{"datum":43.0,"type":"quantitative","scale":{"domain":[21.625,209.125],"nice":false,"zero":false},"axis":null}}},
{"data":{"name":"one"},"mark":{"type":"text","text":"cm","fontSize":6,"fontWeight":"bold","color":"#222"},"encoding":{"x":{"datum":20.5315,"type":"quantitative","scale":{"domain":[-1.6142,23.331],"nice":false,"zero":false},"axis":null},"y":{"datum":195.44,"type":"quantitative","scale":{"domain":[21.625,209.125],"nice":false,"zero":false},"axis":null}}},
{"data":{"name":"one"},"mark":{"type":"text","text":"in","fontSize":6,"fontWeight":"bold","color":"#222"},"encoding":{"x":{"datum":21.7717,"type":"quantitative","scale":{"domain":[-1.6142,23.331],"nice":false,"zero":false},"axis":null},"y":{"datum":195.44,"type":"quantitative","scale":{"domain":[21.625,209.125],"nice":false,"zero":false},"axis":null}}},
{"data":{"name":"one"},"mark":{"type":"text","text":"kg","fontSize":6,"fontWeight":"bold","color":"#222"},"encoding":{"x":{"datum":20.5315,"type":"quantitative","scale":{"domain":[-1.6142,23.331],"nice":false,"zero":false},"axis":null},"y":{"datum":43.1875,"type":"quantitative","scale":{"domain":[21.625,209.125],"nice":false,"zero":false},"axis":null}}},
{"data":{"name":"one"},"mark":{"type":"text","text":"lb","fontSize":6,"fontWeight":"bold","color":"#222"},"encoding":{"x":{"datum":21.7717,"type":"quantitative","scale":{"domain":[-1.6142,23.331],"nice":false,"zero":false},"axis":null},"y":{"datum":43.1875,"type":"quantitative","scale":{"domain":[21.625,209.125],"nice":false,"zero":false},"axis":null}}},
{"data":{"name":"one"},"mark":{"type":"text","text":["S","T","A","T","U","R","E"],"fontSize":6.5,"fontWeight":"bold","color":"#222","baseline":"top","lineHeight":7.5},"encoding":{"x":{"datum":-0.9764,"type":"quantitative","scale":{"domain":[-1.6142,23.331],"nice":false,"zero":false},"axis":null},"y":{"datum":135.925,"type":"quantitative","scale":{"domain":[21.625,209.125],"nice":false,"zero":false},"axis":null}}},
{"data":{"name":"one"},"mark":{"type":"text","text":["W","E","I","G","H","T"],"fontSize":6.5,"fontWeight":"bold","color":"#222","baseline":"top","lineHeight":7.4},"encoding":{"x":{"datum":-0.9764,"type":"quantitative","scale":{"domain":[-1.6142,23.331],"nice":false,"zero":false},"axis":null},"y":{"datum":67.3,"type":"quantitative","scale":{"domain":[21.625,209.125],"nice":false,"zero":false},"axis":null}}},
{"data":{"name":"one"},"mark":{"type":"text","text":["S","T","A","T","U","R","E"],"fontSize":6.5,"fontWeight":"bold","color":"#222","baseline":"top","lineHeight":7.8},"encoding":{"x":{"datum":22.9055,"type":"quantitative","scale":{"domain":[-1.6142,23.331],"nice":false,"zero":false},"axis":null},"y":{"datum":184.675,"type":"quantitative","scale":{"domain":[21.625,209.125],"nice":false,"zero":false},"axis":null}}},
{"data":{"name":"one"},"mark":{"type":"text","text":["W","E","I","G","H","T"],"fontSize":6.5,"fontWeight":"bold","color":"#222","baseline":"top","lineHeight":7.6},"encoding":{"x":{"datum":22.9055,"type":"quantitative","scale":{"domain":[-1.6142,23.331],"nice":false,"zero":false},"axis":null},"y":{"datum":104.05,"type":"quantitative","scale":{"domain":[21.625,209.125],"nice":false,"zero":false},"axis":null}}},

{"data":{"name":"one"},"mark":{"type":"text","text":"2 to 20 years: Girls","fontSize":6.8,"fontWeight":"bold","color":"#111","align":"left"},"encoding":{"x":{"datum":-0.4095,"type":"quantitative","scale":{"domain":[-1.6142,23.331],"nice":false,"zero":false},"axis":null},"y":{"datum":206.875,"type":"quantitative","scale":{"domain":[21.625,209.125],"nice":false,"zero":false},"axis":null}}},
{"data":{"name":"one"},"mark":{"type":"text","text":"Stature-for-age and Weight-for-age percentiles","fontSize":6.8,"fontWeight":"bold","color":"#111","align":"left"},"encoding":{"x":{"datum":-0.4095,"type":"quantitative","scale":{"domain":[-1.6142,23.331],"nice":false,"zero":false},"axis":null},"y":{"datum":203.5,"type":"quantitative","scale":{"domain":[21.625,209.125],"nice":false,"zero":false},"axis":null}}},
{"data":{"name":"one"},"mark":{"type":"text","text":"NAME","fontSize":6.2,"color":"#222","align":"left"},"encoding":{"x":{"datum":12.7717,"type":"quantitative","scale":{"domain":[-1.6142,23.331],"nice":false,"zero":false},"axis":null},"y":{"datum":206.875,"type":"quantitative","scale":{"domain":[21.625,209.125],"nice":false,"zero":false},"axis":null}}},
{"data":{"name":"one"},"mark":{"type":"rule","color":"#333","strokeWidth":0.6},"encoding":{"y":{"datum":205.9375,"type":"quantitative","scale":{"domain":[21.625,209.125],"nice":false,"zero":false},"axis":null},"x":{"datum":14.45,"type":"quantitative","scale":{"domain":[-1.6142,23.331],"nice":false,"zero":false},"axis":null},"x2":{"datum":22.339}}},
{"data":{"name":"one"},"mark":{"type":"text","text":"RECORD #","fontSize":6.2,"color":"#222","align":"left"},"encoding":{"x":{"datum":16.4567,"type":"quantitative","scale":{"domain":[-1.6142,23.331],"nice":false,"zero":false},"axis":null},"y":{"datum":203.5,"type":"quantitative","scale":{"domain":[21.625,209.125],"nice":false,"zero":false},"axis":null}}},
{"data":{"name":"one"},"mark":{"type":"rule","color":"#333","strokeWidth":0.6},"encoding":{"y":{"datum":202.75,"type":"quantitative","scale":{"domain":[21.625,209.125],"nice":false,"zero":false},"axis":null},"x":{"datum":19.0,"type":"quantitative","scale":{"domain":[-1.6142,23.331],"nice":false,"zero":false},"axis":null},"x2":{"datum":22.339}}},
{"data":{"name":"one"},"mark":{"type":"text","text":"Mother's Stature","fontSize":6,"color":"#222","align":"left"},"encoding":{"x":{"datum":-0.3031,"type":"quantitative","scale":{"domain":[-1.6142,23.331],"nice":false,"zero":false},"axis":null},"y":{"datum":195.4375,"type":"quantitative","scale":{"domain":[21.625,209.125],"nice":false,"zero":false},"axis":null}}},
{"data":{"name":"one"},"mark":{"type":"text","text":"Father's Stature","fontSize":6,"color":"#222","align":"left"},"encoding":{"x":{"datum":5.75,"type":"quantitative","scale":{"domain":[-1.6142,23.331],"nice":false,"zero":false},"axis":null},"y":{"datum":195.4375,"type":"quantitative","scale":{"domain":[21.625,209.125],"nice":false,"zero":false},"axis":null}}},
{"data":{"name":"one"},"mark":{"type":"text","text":"Date","fontSize":6,"color":"#222"},"encoding":{"x":{"datum":0.813,"type":"quantitative","scale":{"domain":[-1.6142,23.331],"nice":false,"zero":false},"axis":null},"y":{"datum":192.4375,"type":"quantitative","scale":{"domain":[21.625,209.125],"nice":false,"zero":false},"axis":null}}},
{"data":{"name":"one"},"mark":{"type":"text","text":"Age","fontSize":6,"color":"#222"},"encoding":{"x":{"datum":3.2047,"type":"quantitative","scale":{"domain":[-1.6142,23.331],"nice":false,"zero":false},"axis":null},"y":{"datum":192.4375,"type":"quantitative","scale":{"domain":[21.625,209.125],"nice":false,"zero":false},"axis":null}}},
{"data":{"name":"one"},"mark":{"type":"text","text":"Weight","fontSize":6,"color":"#222"},"encoding":{"x":{"datum":5.5433,"type":"quantitative","scale":{"domain":[-1.6142,23.331],"nice":false,"zero":false},"axis":null},"y":{"datum":192.4375,"type":"quantitative","scale":{"domain":[21.625,209.125],"nice":false,"zero":false},"axis":null}}},
{"data":{"name":"one"},"mark":{"type":"text","text":"Stature","fontSize":6,"color":"#222"},"encoding":{"x":{"datum":7.935,"type":"quantitative","scale":{"domain":[-1.6142,23.331],"nice":false,"zero":false},"axis":null},"y":{"datum":192.4375,"type":"quantitative","scale":{"domain":[21.625,209.125],"nice":false,"zero":false},"axis":null}}},
{"data":{"name":"one"},"mark":{"type":"text","text":"BMI*","fontSize":6,"color":"#222"},"encoding":{"x":{"datum":10.3268,"type":"quantitative","scale":{"domain":[-1.6142,23.331],"nice":false,"zero":false},"axis":null},"y":{"datum":192.4375,"type":"quantitative","scale":{"domain":[21.625,209.125],"nice":false,"zero":false},"axis":null}}},
{"data":{"name":"one"},"mark":{"type":"text","text":"*To Calculate BMI:","fontSize":5.2,"fontWeight":"bold","color":"#222","align":"left"},"encoding":{"x":{"datum":-0.2677,"type":"quantitative","scale":{"domain":[-1.6142,23.331],"nice":false,"zero":false},"axis":null},"y":{"datum":170.875,"type":"quantitative","scale":{"domain":[21.625,209.125],"nice":false,"zero":false},"axis":null}}},
{"data":{"name":"one"},"mark":{"type":"text","text":"Weight (kg) ÷ Stature (cm) ÷ Stature (cm) x 10,000","fontSize":4.9,"color":"#222","align":"left"},"encoding":{"x":{"datum":3.063,"type":"quantitative","scale":{"domain":[-1.6142,23.331],"nice":false,"zero":false},"axis":null},"y":{"datum":170.875,"type":"quantitative","scale":{"domain":[21.625,209.125],"nice":false,"zero":false},"axis":null}}},
{"data":{"name":"one"},"mark":{"type":"text","text":"or Weight (lb) ÷ Stature (in) ÷ Stature (in) x 703","fontSize":4.9,"color":"#222"},"encoding":{"x":{"datum":5.2598,"type":"quantitative","scale":{"domain":[-1.6142,23.331],"nice":false,"zero":false},"axis":null},"y":{"datum":168.0625,"type":"quantitative","scale":{"domain":[21.625,209.125],"nice":false,"zero":false},"axis":null}}},

{"data":{"name":"one"},"mark":{"type":"text","text":["Published May 30, 2000 (modified 11/21/00).","SOURCE: Developed by the National Center for Health Statistics in collaboration with","the National Center for Chronic Disease Prevention and Health Promotion (2000)."],"fontSize":6.3,"color":"#222","align":"left","baseline":"top","lineHeight":9},"encoding":{"x":{"datum":-0.4095,"type":"quantitative","scale":{"domain":[-1.6142,23.331],"nice":false,"zero":false},"axis":null},"y":{"datum":35.125,"type":"quantitative","scale":{"domain":[21.625,209.125],"nice":false,"zero":false},"axis":null}}},
{"data":{"name":"one"},"mark":{"type":"text","text":"http://www.cdc.gov/growthcharts","fontSize":6.3,"fontWeight":"bold","color":"#111","align":"left","baseline":"top"},"encoding":{"x":{"datum":-0.4095,"type":"quantitative","scale":{"domain":[-1.6142,23.331],"nice":false,"zero":false},"axis":null},"y":{"datum":25.0,"type":"quantitative","scale":{"domain":[21.625,209.125],"nice":false,"zero":false},"axis":null}}},
{"data":{"name":"one"},"mark":{"type":"rect","fill":"#111","stroke":null},"encoding":{"x":{"datum":20.1417,"type":"quantitative","scale":{"domain":[-1.6142,23.331],"nice":false,"zero":false},"axis":null},"x2":{"datum":22.2677},"y":{"datum":30.25,"type":"quantitative","scale":{"domain":[21.625,209.125],"nice":false,"zero":false},"axis":null},"y2":{"datum":37.0}}},
{"data":{"name":"one"},"mark":{"type":"text","text":"CDC","fontSize":13,"fontWeight":"bold","fontStyle":"italic","color":"white"},"encoding":{"x":{"datum":21.205,"type":"quantitative","scale":{"domain":[-1.6142,23.331],"nice":false,"zero":false},"axis":null},"y":{"datum":33.6,"type":"quantitative","scale":{"domain":[21.625,209.125],"nice":false,"zero":false},"axis":null}}},
{"data":{"name":"one"},"mark":{"type":"text","text":"SAFER • HEALTHIER • PEOPLE™","fontSize":3.8,"fontWeight":"bold","color":"#111"},"encoding":{"x":{"datum":21.063,"type":"quantitative","scale":{"domain":[-1.6142,23.331],"nice":false,"zero":false},"axis":null},"y":{"datum":27.8125,"type":"quantitative","scale":{"domain":[21.625,209.125],"nice":false,"zero":false},"axis":null}}}
]
}
